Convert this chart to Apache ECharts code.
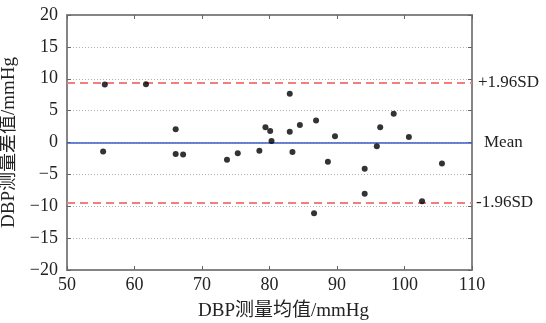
<!DOCTYPE html>
<html><head><meta charset="utf-8">
<script src="https://cdn.jsdelivr.net/npm/echarts@6/dist/echarts.min.js"></script>
<style>html,body{margin:0;padding:0;background:#fff}#c{width:546px;height:323px}</style>
</head><body><div id="c"></div>
<script>
const meanValues = [55.6, 61.7, 55.35, 66.1, 66.1, 67.2, 73.7, 75.3, 78.5, 79.4, 80.1, 80.3, 83.0, 83.0, 83.4, 84.5, 86.9, 86.6, 88.65, 89.7, 94.1, 94.1, 95.9, 96.4, 98.4, 100.65, 102.6, 105.55];
const diffValues = [9.1, 9.15, -1.4, 2.08, -1.8, -1.9, -2.7, -1.7, -1.3, 2.4, 1.8, 0.25, 7.65, 1.7, -1.5, 2.75, 3.45, -11.1, -3.0, 1.0, -4.1, -8.05, -0.6, 2.4, 4.5, 0.85, -9.2, -3.3];
const limitValues = { upper: 9.4, mean: 0, lower: -9.4 };
const limitLabels = ['+1.96SD', 'Mean', '-1.96SD'];
const xTicks = [50, 60, 70, 80, 90, 100, 110];
const yTicks = [-20, -15, -10, -5, 0, 5, 10, 15, 20];

const font = "'Liberation Serif', 'Times New Roman', 'Noto Sans CJK SC', serif";
const points = meanValues.map((x, i) => [x, diffValues[i]]);
const fmt = v => String(v).replace('-', '\u2212');
const tickColor = '#666';
const frame = { show: true, onZero: false, lineStyle: { color: '#858585', width: 2 } };
const ticks = { show: true, inside: true, length: 4, lineStyle: { color: tickColor, width: 1 } };

const chart = echarts.init(document.getElementById('c'));
chart.setOption({
  animation: false,
  grid: { left: 67, right: 74, top: 15, bottom: 53, containLabel: false, outerBoundsMode: 'none' },
  xAxis: [{
    type: 'value', min: xTicks[0], max: xTicks[xTicks.length - 1], interval: 10,
    name: 'DBP测量均值/mmHg', nameLocation: 'middle', nameGap: 32,
    nameTextStyle: { fontFamily: font, fontSize: 19, color: '#222', padding: [0, 0, 0, 28] },
    axisLine: frame, axisTick: ticks,
    axisLabel: { fontFamily: font, fontSize: 18, color: '#222', margin: 6 },
    splitLine: { show: false }
  }, {
    type: 'value', position: 'top', min: xTicks[0], max: xTicks[xTicks.length - 1], interval: 10,
    axisLine: frame, axisTick: ticks,
    axisLabel: { show: false }, splitLine: { show: false }
  }],
  yAxis: [{
    type: 'value', min: yTicks[0], max: yTicks[yTicks.length - 1], interval: 5,
    name: 'DBP测量差值/mmHg', nameLocation: 'middle', nameGap: 37, nameRotate: 90,
    nameTextStyle: { fontFamily: font, fontSize: 19, color: '#222' },
    axisLine: frame, axisTick: ticks,
    axisLabel: { fontFamily: font, fontSize: 18, color: '#222', margin: 9, formatter: fmt },
    splitLine: { show: true, lineStyle: { color: '#b0b0b0', type: [1, 2], width: 1 } }
  }, {
    type: 'value', position: 'right', min: yTicks[0], max: yTicks[yTicks.length - 1], interval: 5,
    axisLine: frame, axisTick: ticks,
    axisLabel: { show: false }, splitLine: { show: false }
  }],
  series: [{
    type: 'scatter', data: points, symbolSize: 6, itemStyle: { color: '#000' }, z: 5,
    markLine: {
      silent: true, symbol: 'none', animation: false,
      label: { show: true, position: 'end', distance: 6, fontFamily: font, fontSize: 17, color: '#222' },
      data: [
        { yAxis: limitValues.upper, lineStyle: { color: '#f08080', type: [8, 5], width: 2 }, label: { formatter: limitLabels[0] } },
        { yAxis: limitValues.mean, lineStyle: { color: '#3a5bc7', type: 'solid', width: 1.5 }, label: { formatter: limitLabels[1], distance: 12 } },
        { yAxis: limitValues.lower, lineStyle: { color: '#f08080', type: [8, 5], width: 2 }, label: { formatter: limitLabels[2], distance: 4 } }
      ]
    }
  }]
});
</script></body></html>
